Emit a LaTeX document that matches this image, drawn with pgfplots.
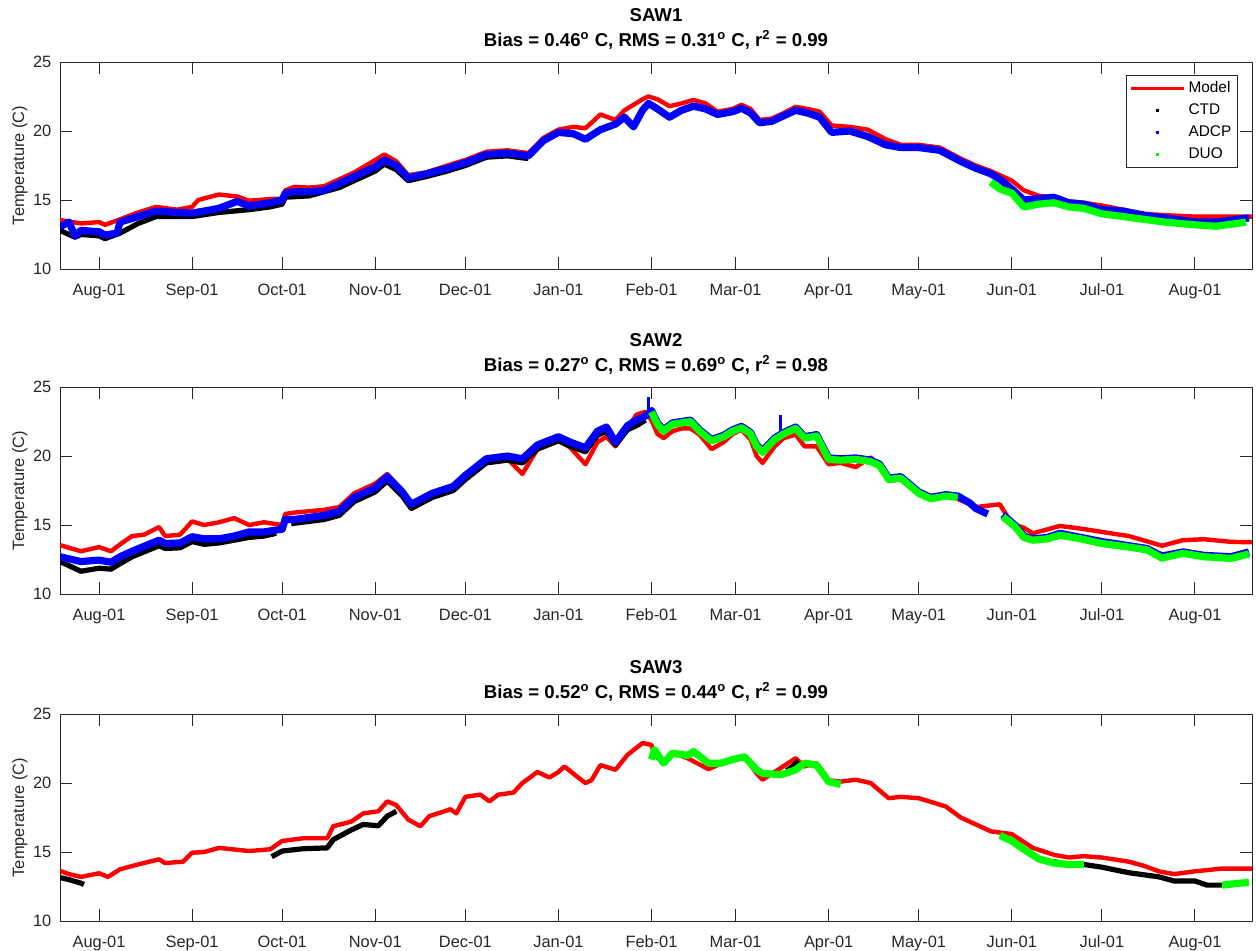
\documentclass[border=0pt]{standalone}
\usepackage{pgfplots}
\pgfplotsset{compat=1.18}
\usepackage{fontspec}
\setmainfont{Liberation Sans}
\definecolor{axc}{RGB}{38,38,38}
\definecolor{mred}{RGB}{255,0,0}
\definecolor{mblue}{RGB}{0,0,255}
\definecolor{mgreen}{RGB}{0,255,0}
\pgfplotsset{
  myax/.style={
    width=596pt, height=103.5pt, scale only axis,
    xmin=-13, xmax=384, ymin=10, ymax=25,
    xtick={0,31,61,92,122,153,184,212,243,273,304,334,365},
    xticklabels={Aug-01,Sep-01,Oct-01,Nov-01,Dec-01,Jan-01,Feb-01,Mar-01,Apr-01,May-01,Jun-01,Jul-01,Aug-01},
    ytick={10,15,20,25}, yticklabels={10,15,20,25},
    /pgf/number format/assume math mode=true,
    tick align=inside, major tick length=6pt,
    axis line style={draw=axc, line width=0.5pt},
    tick style={draw=axc, line width=0.5pt},
    ticklabel style={font=\fontsize{8.2}{9.8}\selectfont, text=axc},
    xticklabel style={yshift=-3.8pt},
    yticklabel style={xshift=-0.8pt},
    ylabel={Temperature (C)},
    ylabel style={at={(axis description cs:-0.0336,0.5)}, anchor=center, font=\fontsize{8.2}{9.8}\selectfont, text=axc},
  },
  model/.style={mred, line width=2.2pt, line join=round},
  ctd/.style={black, line width=2.6pt, line join=round},
  adcp/.style={mblue, line width=3.6pt, line join=round},
  duo/.style={mgreen, line width=3.6pt, line join=round},
}
\begin{document}
\begin{tikzpicture}
\path[use as bounding box] (0,0) rectangle (628pt,-475pt);
% ---------------- SAW1 ----------------
\begin{axis}[myax, name=ax1, at={(30pt,-31pt)}, anchor=north west,
  legend style={at={(axis description cs:0.988,0.937)}, anchor=north east, draw=axc, line width=0.4pt,
    font=\fontsize{7.7}{9}\selectfont, inner xsep=1.5pt, inner ysep=1pt, row sep=0pt,
    nodes={inner ysep=0pt, inner xsep=1.5pt, minimum height=11pt}},
  legend cell align=left]
\addplot[model, forget plot] coordinates {(-13,13.55) (-6,13.3) (0,13.4) (2,13.2) (7,13.6) (13,14.1) (19,14.5) (26,14.3) (31,14.5) (33,15.0) (40,15.4) (46,15.25) (50,14.95) (57,15.07) (61,15.1) (62,15.7) (65,15.95) (70,15.9) (75,16.0) (80,16.5) (85,17.0) (92,17.9) (95,18.3) (99,17.8) (103,16.8) (109,17.0) (116,17.5) (122,17.9) (129,18.5) (136,18.6) (143,18.4) (148,19.5) (153,20.1) (158,20.3) (162,20.2) (167,21.2) (172,20.8) (175,21.5) (178,21.9) (181,22.3) (183,22.5) (186,22.3) (190,21.8) (194,22.0) (198,22.25) (202,22.0) (206,21.4) (211,21.6) (214,21.9) (217,21.6) (220,20.8) (224,20.9) (228,21.3) (232,21.75) (236,21.6) (240,21.4) (244,20.4) (250,20.3) (256,20.1) (262,19.4) (267,19.0) (273,19.0) (280,18.8) (287,18.0) (292,17.5) (297,17.1) (304,16.4) (308,15.7) (313,15.3) (318,15.2) (323,14.9) (328,14.8) (334,14.6) (341,14.3) (348,14.0) (355,13.9) (365,13.8) (372,13.8) (379,13.8) (384,13.8)};
\addplot[ctd, forget plot] coordinates {(-13,12.8) (-8,12.3) (-6,12.5) (0,12.4) (2,12.2) (7,12.6) (13,13.3) (19,13.8) (26,13.8) (31,13.8) (40,14.1) (50,14.3) (57,14.5) (61,14.7) (62,15.2) (70,15.3) (80,15.9) (85,16.4) (92,17.1) (95,17.6) (99,17.2) (103,16.4) (109,16.7) (116,17.1) (122,17.5) (129,18.1) (136,18.2) (143,18.0)};
\addplot[adcp, forget plot] coordinates {(-13,13.07) (-10,13.4) (-8,12.4) (-6,12.8) (0,12.7) (2,12.46) (6,12.6) (7,13.4) (13,13.8) (19,14.2) (26,14.1) (31,14.05) (35,14.2) (40,14.4) (46,14.9) (50,14.57) (57,14.8) (61,15.0) (62,15.5) (65,15.6) (70,15.6) (75,15.7) (80,16.2) (85,16.7) (92,17.4) (95,17.9) (99,17.5) (103,16.6) (109,16.9) (116,17.3) (122,17.7) (129,18.3) (136,18.4) (143,18.2) (148,19.3) (153,19.9) (158,19.8) (162,19.4) (167,20.1) (172,20.5) (175,21.0) (178,20.3) (181,21.5) (183,22.0) (186,21.6) (190,21.0) (194,21.5) (198,21.8) (202,21.6) (206,21.2) (211,21.4) (214,21.65) (217,21.3) (220,20.6) (224,20.7) (228,21.1) (232,21.5) (236,21.3) (240,21.0) (244,19.9) (250,20.0) (256,19.6) (262,19.0) (267,18.8) (273,18.8) (280,18.6) (287,17.8) (292,17.3) (297,16.9) (300,16.5) (304,15.8) (308,15.0) (313,15.1) (318,15.2) (323,14.8) (328,14.7) (334,14.3) (341,14.2) (348,13.9) (355,13.7) (365,13.4) (372,13.4) (379,13.6) (383,13.7)};
\addplot[duo, forget plot] coordinates {(297,16.3) (300,15.8) (304,15.5) (308,14.5) (313,14.7) (318,14.8) (323,14.5) (328,14.4) (334,14.0) (341,13.8) (348,13.6) (355,13.4) (365,13.2) (372,13.1) (379,13.3) (382,13.4)};
\addlegendimage{legend image code/.code={\draw[mred, line width=1.6pt] (0pt,0pt) -- (26.5pt,0pt);}}
\addlegendentry{Model}
\addlegendimage{legend image code/.code={\path[draw=none, fill=none] (0pt,0pt) -- (26.5pt,0pt); \fill[black, draw=none] (12.6pt,-0.6pt) rectangle (13.9pt,0.6pt);}}
\addlegendentry{CTD}
\addlegendimage{legend image code/.code={\path[draw=none, fill=none] (0pt,0pt) -- (26.5pt,0pt); \fill[mblue, draw=none] (12.5pt,-0.8pt) rectangle (14.0pt,0.8pt);}}
\addlegendentry{ADCP}
\addlegendimage{legend image code/.code={\path[draw=none, fill=none] (0pt,0pt) -- (26.5pt,0pt); \fill[mgreen, draw=none] (12.5pt,-0.8pt) rectangle (14.0pt,0.8pt);}}
\addlegendentry{DUO}
\end{axis}
% ---------------- SAW2 ----------------
\begin{axis}[myax, name=ax2, at={(30pt,-193.5pt)}, anchor=north west]
\addplot[model] coordinates {(-13,13.54) (-6,13.1) (0,13.4) (4,13.1) (7,13.6) (11,14.2) (15,14.3) (20,14.85) (22,14.2) (27,14.3) (31,15.26) (35,15.0) (40,15.2) (45,15.5) (50,15.0) (55,15.2) (61,15.0) (62,15.8) (65,15.9) (75,16.1) (80,16.3) (85,17.3) (92,18.0) (96,18.7) (101,17.5) (104,16.5) (111,17.2) (118,17.6) (122,18.3) (129,19.5) (136,19.8) (141,18.7) (146,20.5) (153,21.2) (157,20.6) (162,19.4) (166,21.0) (169,21.4) (172,20.7) (176,22.0) (179,23.0) (182,23.2) (184,22.6) (186,21.6) (188,21.3) (191,21.8) (194,22.0) (197,22.0) (200,21.55) (204,20.5) (208,21.0) (211,21.6) (214,21.9) (217,21.2) (219,20.0) (221,19.5) (225,20.7) (228,21.3) (232,21.55) (235,20.7) (239,20.7) (243,19.4) (247,19.5) (252,19.2) (257,19.9) (260,19.3) (263,18.2) (267,18.3) (273,17.3) (277,17.1) (282,17.2) (287,16.8) (292,16.3) (300,16.5) (304,15.1) (308,14.8) (311,14.4) (320,14.93) (327,14.74) (334,14.5) (343,14.2) (354,13.5) (361,13.9) (368,13.97) (377,13.78) (384,13.75)};
\addplot[ctd] coordinates {(-13,12.35) (-6,11.65) (0,11.87) (4,11.8) (7,12.2) (11,12.7) (20,13.5) (22,13.3) (27,13.35) (31,13.8) (35,13.6) (40,13.7) (45,13.9) (50,14.1) (55,14.2) (59,14.4)};
\addplot[ctd] coordinates {(64,15.1) (75,15.4) (80,15.7) (85,16.7) (92,17.4) (96,18.2) (101,17.1) (104,16.2) (111,17.0) (118,17.5) (122,18.3) (129,19.5) (136,19.7) (141,19.5) (146,20.5) (153,21.1) (157,20.7) (162,20.3) (166,21.5) (169,21.8) (172,20.8) (176,21.9) (179,22.2) (182,22.6)};
\addplot[adcp] coordinates {(-13,12.7) (-6,12.35) (0,12.46) (4,12.3) (7,12.7) (11,13.1) (20,13.9) (22,13.66) (27,13.7) (31,14.15) (35,14.0) (40,14.0) (45,14.2) (50,14.5) (55,14.5) (61,14.7) (62,15.4) (65,15.4) (75,15.7) (80,16.0) (85,17.0) (92,17.7) (96,18.5) (101,17.4) (104,16.5) (111,17.3) (118,17.8) (122,18.6) (129,19.8) (136,20.0) (141,19.8) (146,20.8) (153,21.4) (157,21.0) (162,20.6) (166,21.8) (169,22.1) (172,21.0) (176,22.2) (179,22.6) (182,22.9) (184,23.3) (186,22.4) (188,21.9) (191,22.4) (194,22.5) (197,22.6) (200,21.9) (204,21.2) (208,21.5) (211,21.9) (214,22.15) (217,21.7) (219,20.8) (221,20.4) (225,21.3) (228,21.7) (232,22.1) (235,21.4) (239,21.55) (243,19.86) (247,19.8) (252,19.86) (257,19.7) (260,19.4) (263,18.4) (267,18.5) (273,17.4) (277,17.0) (282,17.2) (286,17.1) (290,16.6) (292,16.2) (296,15.8)};
\addplot[adcp] coordinates {(301,15.75) (305,15.0) (308,14.2) (311,14.0) (316,14.1) (320,14.4) (327,14.1) (334,13.8) (343,13.5) (349,13.3) (354,12.75) (361,13.05) (368,12.8) (377,12.7) (383,13.05)};
\addplot[mblue, line width=1.5pt] coordinates {(183,23.0) (183,24.3)};
\addplot[mblue, line width=1.5pt] coordinates {(227,21.8) (227,23.0)};
\addplot[duo] coordinates {(184,23.2) (186,22.3) (188,21.8) (191,22.3) (194,22.4) (197,22.5) (200,21.8) (204,21.1) (208,21.4) (211,21.8) (214,22.05) (217,21.6) (219,20.7) (221,20.26) (225,21.2) (228,21.6) (232,22.0) (235,21.3) (239,21.45) (243,19.76) (247,19.7) (252,19.76) (257,19.6) (260,19.3) (263,18.3) (267,18.4) (273,17.3) (277,16.9) (282,17.1) (286,17.0)};
\addplot[duo] coordinates {(301,15.6) (305,14.9) (308,14.1) (311,13.9) (316,14.0) (320,14.26) (327,14.0) (334,13.66) (343,13.4) (349,13.2) (354,12.6) (361,12.95) (368,12.7) (377,12.58) (383,12.9)};
\end{axis}
% ---------------- SAW3 ----------------
\begin{axis}[myax, name=ax3, at={(30pt,-357pt)}, anchor=north west]
\addplot[model] coordinates {(-13,13.63) (-10,13.4) (-6,13.2) (0,13.46) (3,13.2) (7,13.75) (13,14.1) (20,14.47) (22,14.2) (28,14.3) (31,14.95) (35,15.0) (40,15.3) (50,15.07) (57,15.2) (61,15.8) (68,16.0) (76,16.0) (78,16.87) (84,17.2) (88,17.8) (93,17.95) (96,18.67) (99,18.4) (103,17.35) (107,16.87) (110,17.6) (115,17.95) (117,18.1) (119,17.8) (122,19.0) (127,19.16) (130,18.67) (133,19.16) (138,19.3) (141,20.0) (146,20.8) (150,20.4) (153,20.8) (155,21.2) (159,20.5) (162,20.0) (164,20.2) (167,21.3) (172,20.96) (176,22.04) (181,22.9) (184,22.76) (185,22.0) (188,21.5) (191,22.2) (196,21.8) (203,21.0) (207,21.4) (215,21.9) (219,20.7) (221,20.24) (227,21.08) (232,21.8) (235,21.2) (239,21.44) (243,20.2) (247,20.1) (252,20.24) (257,20.0) (263,18.9) (267,19.0) (273,18.9) (282,18.3) (287,17.5) (297,16.5) (304,16.3) (311,15.3) (318,14.8) (323,14.6) (328,14.7) (334,14.6) (343,14.3) (348,14.0) (353,13.6) (358,13.4) (365,13.6) (374,13.8) (384,13.8)};
\addplot[ctd] coordinates {(-13,13.15) (-10,13.0) (-6,12.74) (-5,12.65)};
\addplot[ctd] coordinates {(57.5,14.66) (61,15.07) (68,15.24) (76,15.3) (78,15.9) (84,16.6) (88,17.0) (93,16.9) (96,17.6) (99,17.95)};
\addplot[ctd] coordinates {(229,20.9) (231,21.2) (233,21.6)};
\addplot[ctd] coordinates {(318,14.3) (323,14.1) (328,14.1) (334,13.9) (343,13.5) (353,13.2) (358,12.9) (365,12.9) (369,12.6) (374,12.6)};
\addplot[duo] coordinates {(184,21.7) (185,22.4) (188,21.44) (191,22.16) (196,22.0) (198,22.28) (203,21.44) (207,21.44) (211,21.7) (215,21.9) (219,20.96) (221,20.7) (227,20.6) (230,20.8) (232,20.96) (235,21.44) (239,21.3) (243,20.1) (247,19.9)};
\addplot[duo] coordinates {(300,16.2) (304,15.8) (308,15.2) (313,14.5) (318,14.2) (323,14.1) (328,14.1)};
\addplot[duo] coordinates {(374,12.6) (378,12.7) (383,12.8)};
\end{axis}
% titles
\foreach \ax/\nm/\b/\r/\rr in {ax1/SAW1/0.46/0.31/0.99, ax2/SAW2/0.27/0.69/0.98, ax3/SAW3/0.52/0.44/0.99}{
  \node[anchor=base, font=\bfseries\fontsize{9.3}{11}\selectfont, text=black, yshift=20.5pt, inner sep=0pt] at (\ax.north) {\nm};
  \node[anchor=base, font=\bfseries\fontsize{9.3}{11}\selectfont, text=black, yshift=7.6pt, inner sep=0pt] at (\ax.north) {Bias = \b\textsuperscript{o} C, RMS = \r\textsuperscript{o} C, r\textsuperscript{2} = \rr};
}
\end{tikzpicture}
\end{document}
